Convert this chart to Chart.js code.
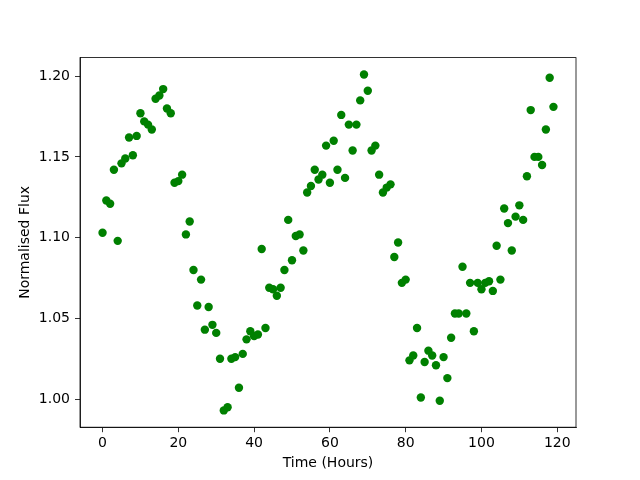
<!DOCTYPE html>
<html>
<head>
<meta charset="utf-8">
<script src="https://cdn.jsdelivr.net/npm/chart.js@4/dist/chart.umd.min.js"></script>
<style>
  html, body { margin: 0; padding: 0; background: #fff; }
  #c { display: block; }
</style>
</head>
<body>
<canvas id="c" width="640" height="480" style="width:640px;height:480px"></canvas>
<script>
const hours = [0,1,2,3,4,5,6,7,8,9,10,11,12,13,14,15,16,17,18,19,20,21,22,23,24,25,26,27,28,29,30,31,32,33,34,35,36,37,38,39,40,41,42,43,44,45,46,47,48,49,50,51,52,53,54,55,56,57,58,59,60,61,62,63,64,65,66,67,68,69,70,71,72,73,74,75,76,77,78,79,80,81,82,83,84,85,86,87,88,89,90,91,92,93,94,95,96,97,98,99,100,101,102,103,104,105,106,107,108,109,110,111,112,113,114,115,116,117,118,119];
const flux = [1.103,1.123,1.121,1.142,1.098,1.146,1.149,1.162,1.151,1.163,
  1.177,1.172,1.170,1.167,1.186,1.188,1.192,1.180,1.177,1.134,
  1.135,1.139,1.102,1.110,1.080,1.058,1.074,1.043,1.057,1.046,
  1.041,1.025,0.993,0.995,1.025,1.026,1.007,1.028,1.037,1.042,
  1.039,1.040,1.093,1.044,1.069,1.068,1.064,1.069,1.080,1.111,
  1.086,1.101,1.102,1.092,1.128,1.132,1.142,1.136,1.139,1.157,
  1.134,1.160,1.142,1.176,1.137,1.170,1.154,1.170,1.185,1.201,
  1.191,1.154,1.157,1.139,1.128,1.131,1.133,1.088,1.097,1.072,
  1.074,1.024,1.027,1.044,1.001,1.023,1.030,1.027,1.021,0.999,
  1.026,1.013,1.038,1.053,1.053,1.082,1.053,1.072,1.042,1.072,
  1.068,1.072,1.073,1.067,1.095,1.074,1.118,1.109,1.092,1.113,
  1.120,1.111,1.138,1.179,1.150,1.150,1.145,1.167,1.199,1.181];
const xTicks = [0,20,40,60,80,100,120];
const yTicks = [1.00,1.05,1.10,1.15,1.20];
const xLimits = [-5.95, 124.95];
const yLimits = [0.9826, 1.2115];

const FONT = "'DejaVu Sans', sans-serif";

const framePlugin = {
  id: 'frame',
  afterDatasetsDraw(chart) {
    const {ctx, chartArea: a} = chart;
    ctx.save();
    ctx.strokeStyle = '#000';
    ctx.lineWidth = 0.8;
    ctx.strokeRect(a.left, a.top, a.right - a.left, a.bottom - a.top);
    ctx.restore();
  }
};

new Chart(document.getElementById('c'), {
  type: 'scatter',
  data: {
    datasets: [{
      data: hours.map((h, i) => ({x: h, y: flux[i]})),
      backgroundColor: '#008000',
      borderWidth: 0,
      pointRadius: 4.2,
      pointHoverRadius: 4.2
    }]
  },
  options: {
    responsive: false,
    animation: false,
    devicePixelRatio: 1,
    layout: { padding: { left: 0, top: 57.6, right: 64, bottom: 0 } },
    plugins: { legend: { display: false }, tooltip: { enabled: false } },
    scales: {
      x: {
        type: 'linear',
        min: xLimits[0], max: xLimits[1],
        afterBuildTicks: axis => { axis.ticks = xTicks.map(v => ({value: v})); },
        afterFit: axis => { axis.height = 52.8; },
        grid: { drawOnChartArea: false, drawTicks: true, tickLength: 5, color: '#000', lineWidth: 0.8 },
        border: { display: true, color: '#000', width: 0.8 },
        ticks: { color: '#000', font: { family: FONT, size: 14 }, padding: 3, maxRotation: 0, callback: v => String(v) },
        title: { display: true, text: 'Time (Hours)', color: '#000', font: { family: FONT, size: 14 }, padding: { top: 0, bottom: 8.6 } }
      },
      y: {
        type: 'linear',
        min: yLimits[0], max: yLimits[1],
        afterBuildTicks: axis => { axis.ticks = yTicks.map(v => ({value: v})); },
        afterFit: axis => { axis.width = 80; },
        grid: { drawOnChartArea: false, drawTicks: true, tickLength: 5, color: '#000', lineWidth: 0.8 },
        border: { display: true, color: '#000', width: 0.8 },
        ticks: { color: '#000', font: { family: FONT, size: 14 }, padding: 5, callback: v => v.toFixed(2) },
        title: { display: true, text: 'Normalised Flux', color: '#000', font: { family: FONT, size: 14 }, padding: { top: 16.6, bottom: 0 } }
      }
    }
  },
  plugins: [framePlugin]
});
</script>
</body>
</html>
